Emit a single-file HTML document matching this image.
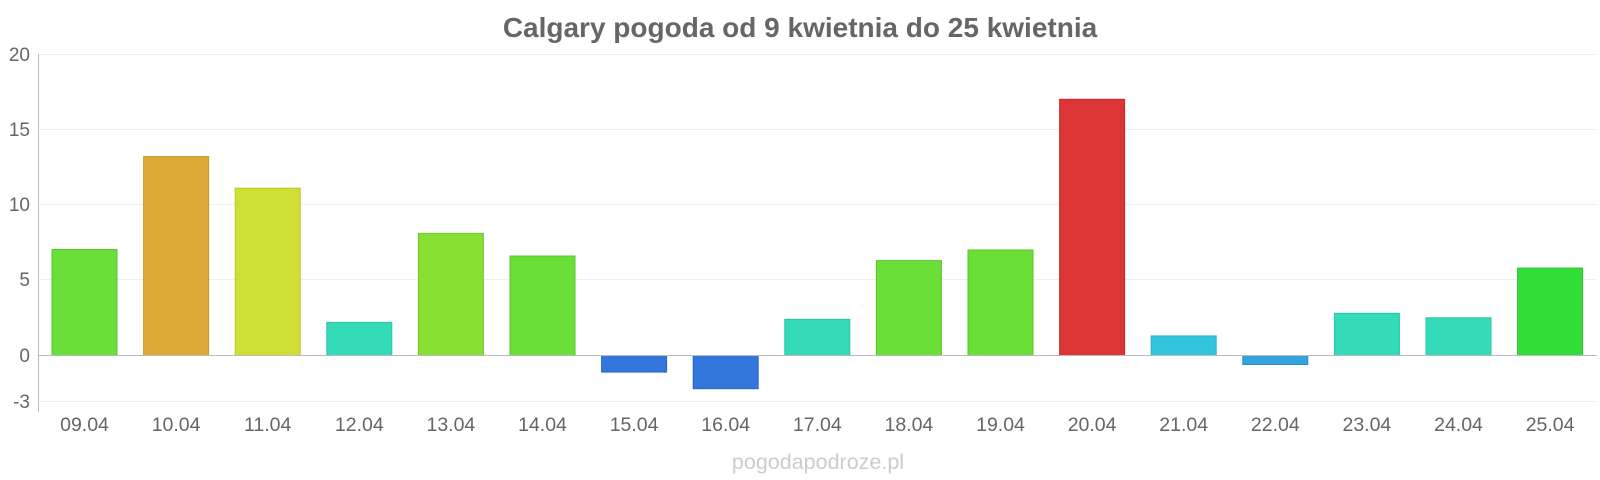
<!DOCTYPE html>
<html><head><meta charset="utf-8"><style>
html,body{margin:0;padding:0;background:#fff;}
svg{display:block;font-family:"Liberation Sans",sans-serif;}
</style></head><body>
<svg width="1600" height="480" xmlns="http://www.w3.org/2000/svg">
<text x="800" y="37" text-anchor="middle" font-size="28" font-weight="bold" fill="#666">Calgary pogoda od 9 kwietnia do 25 kwietnia</text>
<g stroke="#f0f0f0" stroke-width="1">
<line x1="38" x2="1597" y1="54.5" y2="54.5"/>
<line x1="38" x2="1597" y1="129.5" y2="129.5"/>
<line x1="38" x2="1597" y1="204.5" y2="204.5"/>
<line x1="38" x2="1597" y1="279.5" y2="279.5"/>
<line x1="38" x2="1597" y1="401.5" y2="401.5"/>
</g>
<line x1="38.5" x2="38.5" y1="54" y2="412" stroke="#bbb"/>
<g font-size="19" fill="#666" text-anchor="end">
<text x="30" y="61">20</text><text x="30" y="136">15</text><text x="30" y="211">10</text>
<text x="30" y="286">5</text><text x="30" y="362">0</text><text x="30" y="408">-3</text>
</g>
<g stroke-width="1">
<rect x="52" y="249.5" width="65" height="106" fill="#6adf38" stroke="#5ac42e"/>
<rect x="143.6" y="156.6" width="65" height="198.9" fill="#ddaa35" stroke="#c8952a"/>
<rect x="235.2" y="188.2" width="65" height="167.3" fill="#cfdf33" stroke="#b8c52b"/>
<rect x="326.8" y="322.4" width="65" height="33.1" fill="#33dbb8" stroke="#2bc4a3"/>
<rect x="418.4" y="233.4" width="65" height="122.1" fill="#88df33" stroke="#75c42b"/>
<rect x="510" y="256" width="65" height="99.5" fill="#6adf38" stroke="#5ac42e"/>
<rect x="601.6" y="355.5" width="65" height="16.6" fill="#3377dd" stroke="#2a66c4"/>
<rect x="693.2" y="355.5" width="65" height="33.2" fill="#3377dd" stroke="#2a66c4"/>
<rect x="784.8" y="319.3" width="65" height="36.2" fill="#33dbb8" stroke="#2bc4a3"/>
<rect x="876.4" y="260.6" width="65" height="94.9" fill="#6adf38" stroke="#5ac42e"/>
<rect x="968" y="250" width="65" height="105.5" fill="#6adf38" stroke="#5ac42e"/>
<rect x="1059.6" y="99.3" width="65" height="256.2" fill="#dd3535" stroke="#c42b2b"/>
<rect x="1151.2" y="335.9" width="65" height="19.6" fill="#33c4dd" stroke="#2bafc4"/>
<rect x="1242.8" y="355.5" width="65" height="9" fill="#33a4dd" stroke="#2b8fc4"/>
<rect x="1334.4" y="313.3" width="65" height="42.2" fill="#33dbb8" stroke="#2bc4a3"/>
<rect x="1426" y="317.8" width="65" height="37.7" fill="#33dbb8" stroke="#2bc4a3"/>
<rect x="1517.6" y="268.1" width="65" height="87.4" fill="#33dd38" stroke="#2bc42e"/>
</g>
<line x1="38" x2="1597" y1="355.5" y2="355.5" stroke="#bbb"/>
<g font-size="19.5" fill="#666" text-anchor="middle">
<text x="84.5" y="431">09.04</text><text x="176.1" y="431">10.04</text><text x="267.7" y="431">11.04</text>
<text x="359.3" y="431">12.04</text><text x="450.9" y="431">13.04</text><text x="542.5" y="431">14.04</text>
<text x="634.1" y="431">15.04</text><text x="725.7" y="431">16.04</text><text x="817.3" y="431">17.04</text>
<text x="908.9" y="431">18.04</text><text x="1000.5" y="431">19.04</text><text x="1092.1" y="431">20.04</text>
<text x="1183.7" y="431">21.04</text><text x="1275.3" y="431">22.04</text><text x="1366.9" y="431">23.04</text>
<text x="1458.5" y="431">24.04</text><text x="1550.1" y="431">25.04</text>
</g>
<text x="818" y="469" text-anchor="middle" font-size="21.5" fill="#ccc">pogodapodroze.pl</text>
</svg>
</body></html>
